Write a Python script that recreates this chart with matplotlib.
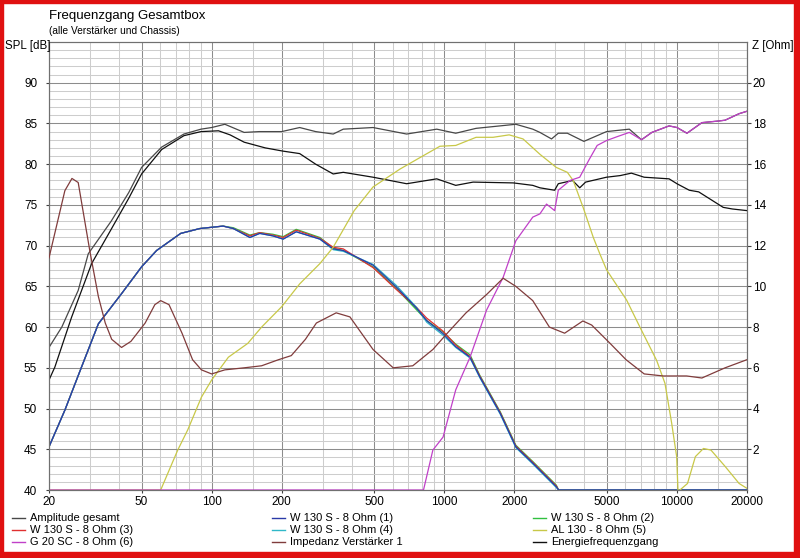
import matplotlib
matplotlib.use('Agg')
import matplotlib.pyplot as plt
from matplotlib.patches import Rectangle
from matplotlib.lines import Line2D
from matplotlib.ticker import NullFormatter

plt.rcParams['font.family'] = ['Liberation Sans', 'DejaVu Sans']

# x axis ticks
freq_major = [20, 50, 100, 200, 500, 1000, 2000, 5000, 10000, 20000]
freq_major_labels = ['20', '50', '100', '200', '500', '1000', '2000', '5000', '10000', '20000']
freq_minor = [30, 40, 60, 70, 80, 90, 150, 300, 400, 600, 700, 800, 900,
              1500, 3000, 4000, 6000, 7000, 8000, 9000, 15000]

# Amplitude gesamt
amp_f = [20, 22.7, 26.7, 29.5, 37, 44, 50, 61, 76, 90, 100, 114, 138, 160, 200,
         239, 280, 333, 368, 494, 689, 928, 1120, 1370, 2030, 2400, 2576, 2890,
         3090, 3380, 3980, 4980, 6240, 7040, 7800, 9250, 10000, 11040, 12800,
         15100, 16100, 18500, 20000]
amp_db = [57.5, 60.0, 64.5, 69.0, 73.0, 76.5, 79.6, 82.1, 83.7, 84.3, 84.5, 84.9,
          83.9, 84.0, 84.0, 84.5, 84.0, 83.7, 84.3, 84.5, 83.7, 84.3, 83.8, 84.4,
          84.9, 84.3, 83.9, 83.1, 83.8, 83.8, 82.8, 84.0, 84.3, 83.0, 83.9, 84.7,
          84.5, 83.8, 85.1, 85.3, 85.4, 86.2, 86.5]

# Energiefrequenzgang
energy_f = [20, 21.2, 25, 30.5, 37, 44, 50, 61, 76, 90, 107, 120, 138, 170, 203,
            239, 280, 333, 368, 494, 689, 928, 1120, 1330, 1980, 2400, 2576, 2980,
            3090, 3560, 3820, 4050, 4980, 5700, 6370, 7230, 9250, 10000, 11300,
            12400, 15800, 17300, 20000]
energy_db = [53.5, 55.1, 61.2, 67.8, 72.0, 75.8, 78.8, 81.8, 83.5, 84.0, 84.1, 83.6,
             82.7, 82.0, 81.6, 81.3, 80.0, 78.8, 79.0, 78.4, 77.6, 78.2, 77.4, 77.8,
             77.7, 77.4, 77.1, 76.8, 77.6, 78.0, 77.1, 77.8, 78.4, 78.6, 78.9, 78.4,
             78.2, 77.6, 76.8, 76.6, 74.7, 74.5, 74.3]

# W 130 S - 8 Ohm (1) to (4)
woofer_f = [20, 23.4, 27.6, 32.6, 41, 50, 58, 73.6, 89, 112, 124, 146, 161, 183,
            203, 231, 292, 333, 368, 494, 623, 761, 840, 988, 1120, 1290, 1420,
            1740, 2030, 2400, 3030, 3100, 20000]
w1_db = [45.3, 49.8, 55.1, 60.4, 64.1, 67.4, 69.4, 71.5, 72.1, 72.4, 72.1, 71.0,
         71.5, 71.2, 70.8, 71.7, 70.8, 69.6, 69.4, 67.6, 64.9, 62.3, 60.8, 59.2,
         57.6, 56.3, 53.9, 49.4, 45.3, 43.3, 40.4, 40.0, 40.0]
w2_db = [45.3, 49.8, 55.1, 60.4, 64.1, 67.4, 69.4, 71.5, 72.1, 72.4, 72.2, 71.3,
         71.6, 71.4, 71.1, 72.0, 71.0, 69.7, 69.4, 67.4, 64.7, 62.1, 60.8, 59.4,
         57.9, 56.6, 54.1, 49.6, 45.5, 43.5, 40.6, 40.0, 40.0]
w3_db = [45.3, 49.8, 55.1, 60.4, 64.1, 67.4, 69.4, 71.5, 72.1, 72.4, 72.1, 71.2,
         71.6, 71.3, 71.0, 71.9, 70.9, 69.8, 69.6, 67.3, 64.6, 62.4, 61.1, 59.5,
         57.8, 56.4, 54.0, 49.5, 45.4, 43.4, 40.5, 40.0, 40.0]
w4_db = [45.3, 49.8, 55.1, 60.4, 64.1, 67.4, 69.4, 71.5, 72.1, 72.4, 72.1, 71.0,
         71.5, 71.2, 70.8, 71.7, 70.8, 69.5, 69.3, 67.7, 65.1, 62.4, 60.6, 59.0,
         57.5, 56.2, 53.8, 49.3, 45.2, 43.2, 40.3, 40.0, 40.0]

# AL 130 - 8 Ohm (5)
al_f = [20, 60.4, 71.5, 79, 90.4, 100, 118, 143, 164, 200, 239, 292, 333, 410,
        494, 645, 785, 957, 1120, 1370, 1620, 1900, 2180, 2580, 3030, 3380, 3580,
        3950, 4370, 4660, 4990, 6080, 6930, 8180, 8880, 9490, 9970, 10100, 10300,
        11100, 12000, 13000, 14000, 16100, 18500, 20000]
al_db = [40.0, 40.0, 44.9, 47.4, 51.4, 53.5, 56.3, 58.0, 60.0, 62.5, 65.3, 67.8,
         69.8, 74.3, 77.2, 79.4, 80.8, 82.2, 82.3, 83.3, 83.3, 83.6, 83.1, 81.2,
         79.6, 79.0, 78.0, 74.7, 71.0, 69.0, 67.0, 63.3, 60.0, 55.9, 53.1, 48.2,
         44.1, 40.0, 40.0, 40.8, 44.1, 45.1, 44.9, 42.9, 40.8, 40.2]

# G 20 SC - 8 Ohm (6)
g20_f = [20, 814, 893, 988, 1120, 1290, 1520, 1790, 2030, 2400, 2576, 2750, 2980,
         3090, 3470, 3820, 4200, 4540, 4980, 5560, 6240, 7040, 7800, 9250, 10000,
         11040, 12800, 15100, 16100, 18500, 20000]
g20_db = [40.0, 40.0, 44.9, 46.5, 52.3, 56.3, 62.1, 66.1, 70.6, 73.5, 73.9, 75.1,
          74.3, 76.8, 78.0, 78.4, 80.6, 82.3, 82.9, 83.4, 83.9, 83.0, 83.9, 84.7,
          84.5, 83.8, 85.1, 85.3, 85.4, 86.2, 86.5]

# Impedanz Verstaerker 1 (Ohm, right axis)
imp_f = [20, 23.4, 25.1, 26.7, 30, 32.6, 34.9, 37.2, 41, 45, 51.8, 57, 60.4, 65.6,
         74.6, 82.8, 90.4, 100, 114, 138, 164, 194, 220, 253, 282, 343, 393, 494,
         603, 732, 893, 1030, 1240, 1520, 1790, 2030, 2400, 2830, 3290, 3940, 4300,
         5160, 6040, 7230, 8730, 11000, 12800, 16100, 20000]
imp_ohm = [11.4, 14.7, 15.3, 15.1, 11.7, 9.5, 8.2, 7.4, 7.0, 7.3, 8.2, 9.1, 9.3,
           9.1, 7.7, 6.4, 5.9, 5.7, 5.9, 6.0, 6.1, 6.4, 6.6, 7.4, 8.2, 8.7, 8.5,
           6.9, 6.0, 6.1, 6.9, 7.7, 8.7, 9.6, 10.4, 10.0, 9.3, 8.0, 7.7, 8.3, 8.1,
           7.2, 6.4, 5.7, 5.6, 5.6, 5.5, 6.0, 6.4]

legend_names = ['Amplitude gesamt', 'W 130 S - 8 Ohm (1)', 'W 130 S - 8 Ohm (2)',
                'W 130 S - 8 Ohm (3)', 'W 130 S - 8 Ohm (4)', 'AL 130 - 8 Ohm (5)',
                'G 20 SC - 8 Ohm (6)', 'Impedanz Verstärker 1', 'Energiefrequenzgang']

c_amp = '#484848'
c_w1 = '#2a3aa8'
c_w2 = '#30c040'
c_w3 = '#e03030'
c_w4 = '#30b8c8'
c_al = '#c8c848'
c_g20 = '#c040c8'
c_imp = '#803c3c'
c_energy = '#101010'
legend_colors = [c_amp, c_w1, c_w2, c_w3, c_w4, c_al, c_g20, c_imp, c_energy]

fig = plt.figure(figsize=(8, 5.58), dpi=100, facecolor='white')
ax = fig.add_axes([49 / 800, 68 / 558, 698 / 800, 448 / 558])
ax.set_facecolor('white')

lw = 0.9
ax.plot(amp_f, amp_db, color=c_amp, lw=lw, zorder=3)
ax.plot(energy_f, energy_db, color=c_energy, lw=lw, zorder=3)
ax.plot(woofer_f, w2_db, color=c_w2, lw=lw, zorder=3)
ax.plot(woofer_f, w3_db, color=c_w3, lw=lw, zorder=3)
ax.plot(woofer_f, w4_db, color=c_w4, lw=lw, zorder=3)
ax.plot(woofer_f, w1_db, color=c_w1, lw=lw, zorder=3)
ax.plot(al_f, al_db, color=c_al, lw=lw, zorder=3)
ax.plot(g20_f, g20_db, color=c_g20, lw=lw, zorder=3)

ax.set_xscale('log')
ax.set_xlim(20, 20000)
ax.set_ylim(40, 95)
ax.set_xticks(freq_major, freq_major_labels)
ax.set_xticks(freq_minor, minor=True)
ax.xaxis.set_minor_formatter(NullFormatter())
ax.set_yticks(range(40, 91, 5))
ax.set_yticks([v for v in range(41, 95) if v % 5 != 0], minor=True)

ax.set_axisbelow(True)
ax.grid(True, which='major', color='#8c8c8c', lw=0.75)
ax.grid(True, which='minor', color='#cdcdcd', lw=0.75)

ax.tick_params(which='major', direction='out', length=2.5, width=0.8,
               color='#404040', labelsize=8.5, labelcolor='black')
ax.tick_params(axis='y', which='major', pad=6)
ax.tick_params(axis='x', which='major', pad=2)
ax.tick_params(which='minor', length=0)
for s in ax.spines.values():
    s.set_color('#707070')
    s.set_linewidth(0.8)

ax2 = ax.twinx()
ax2.plot(imp_f, imp_ohm, color=c_imp, lw=lw, zorder=3)
ax2.set_ylim(0, 22)
ax2.set_yticks(range(2, 21, 2))
ax2.tick_params(direction='out', length=3, width=0.8, color='#404040',
                labelsize=8.5, pad=1)
for s in ax2.spines.values():
    s.set_color('#707070')
    s.set_linewidth(0.8)

# titles
fig.text(49 / 800, 1 - 16 / 558, 'Frequenzgang Gesamtbox', fontsize=9.5,
         va='center', ha='left')
fig.text(49 / 800, 1 - 31.5 / 558, '(alle Verstärker und Chassis)', fontsize=7.3,
         va='center', ha='left')
fig.text(5 / 800, 1 - 46.5 / 558, 'SPL [dB]', fontsize=8.3, va='center', ha='left')
fig.text(752 / 800, 1 - 46.5 / 558, 'Z [Ohm]', fontsize=8.3, va='center', ha='left')

# legend, 3 columns filled row by row
col_x = [12, 272, 533]
row_y = [518, 530, 542]
for i, (name, col) in enumerate(zip(legend_names, legend_colors)):
    x0 = col_x[i % 3]
    y0 = row_y[i // 3]
    fig.add_artist(Line2D([x0 / 800, (x0 + 13) / 800], [1 - y0 / 558, 1 - y0 / 558],
                          color=col, lw=1.0, transform=fig.transFigure))
    fig.text((x0 + 18) / 800, 1 - y0 / 558, name, fontsize=8, va='center', ha='left')

# red window frame
red = '#e01010'
fig.patches.extend([
    Rectangle((0, 0), 3 / 800, 1, transform=fig.transFigure, color=red),
    Rectangle((0, 1 - 3 / 558), 1, 3 / 558, transform=fig.transFigure, color=red),
    Rectangle((1 - 6 / 800, 0), 6 / 800, 1, transform=fig.transFigure, color=red),
    Rectangle((0, 0), 1, 6 / 558, transform=fig.transFigure, color=red),
])

fig.savefig('out.png', dpi=100, facecolor='white')
